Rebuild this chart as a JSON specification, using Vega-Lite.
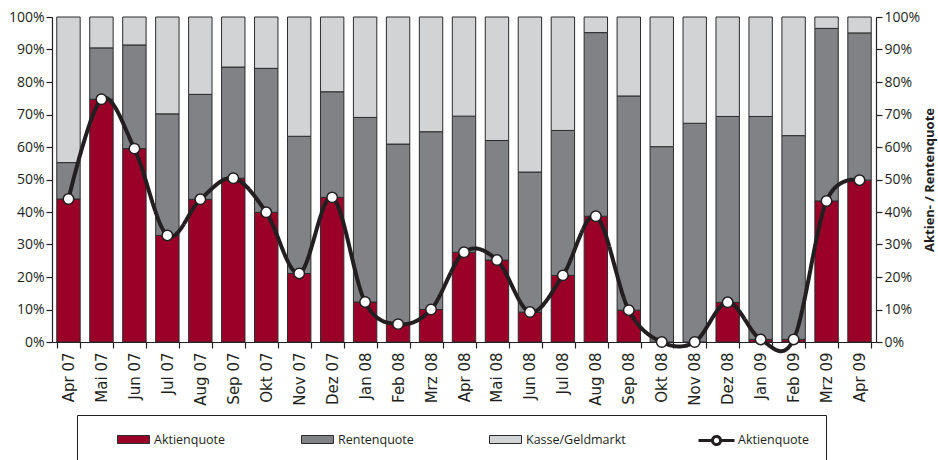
{
  "$schema": "https://vega.github.io/schema/vega-lite/v6.json",
  "width": 824,
  "height": 325,
  "autosize": "none",
  "padding": {"left": 52, "top": 17, "right": 62, "bottom": 118},
  "background": "white",
  "data": {"values": [
    {"Monat": "Apr 07", "Kategorie": "Aktienquote", "Anteil": 44.0},
    {"Monat": "Apr 07", "Kategorie": "Rentenquote", "Anteil": 11.2},
    {"Monat": "Apr 07", "Kategorie": "Kasse/Geldmarkt", "Anteil": 44.8},
    {"Monat": "Mai 07", "Kategorie": "Aktienquote", "Anteil": 74.7},
    {"Monat": "Mai 07", "Kategorie": "Rentenquote", "Anteil": 15.8},
    {"Monat": "Mai 07", "Kategorie": "Kasse/Geldmarkt", "Anteil": 9.5},
    {"Monat": "Jun 07", "Kategorie": "Aktienquote", "Anteil": 59.5},
    {"Monat": "Jun 07", "Kategorie": "Rentenquote", "Anteil": 31.9},
    {"Monat": "Jun 07", "Kategorie": "Kasse/Geldmarkt", "Anteil": 8.6},
    {"Monat": "Jul 07", "Kategorie": "Aktienquote", "Anteil": 32.8},
    {"Monat": "Jul 07", "Kategorie": "Rentenquote", "Anteil": 37.4},
    {"Monat": "Jul 07", "Kategorie": "Kasse/Geldmarkt", "Anteil": 29.8},
    {"Monat": "Aug 07", "Kategorie": "Aktienquote", "Anteil": 43.9},
    {"Monat": "Aug 07", "Kategorie": "Rentenquote", "Anteil": 32.3},
    {"Monat": "Aug 07", "Kategorie": "Kasse/Geldmarkt", "Anteil": 23.8},
    {"Monat": "Sep 07", "Kategorie": "Aktienquote", "Anteil": 50.4},
    {"Monat": "Sep 07", "Kategorie": "Rentenquote", "Anteil": 34.2},
    {"Monat": "Sep 07", "Kategorie": "Kasse/Geldmarkt", "Anteil": 15.4},
    {"Monat": "Okt 07", "Kategorie": "Aktienquote", "Anteil": 39.9},
    {"Monat": "Okt 07", "Kategorie": "Rentenquote", "Anteil": 44.3},
    {"Monat": "Okt 07", "Kategorie": "Kasse/Geldmarkt", "Anteil": 15.8},
    {"Monat": "Nov 07", "Kategorie": "Aktienquote", "Anteil": 21.1},
    {"Monat": "Nov 07", "Kategorie": "Rentenquote", "Anteil": 42.2},
    {"Monat": "Nov 07", "Kategorie": "Kasse/Geldmarkt", "Anteil": 36.7},
    {"Monat": "Dez 07", "Kategorie": "Aktienquote", "Anteil": 44.5},
    {"Monat": "Dez 07", "Kategorie": "Rentenquote", "Anteil": 32.5},
    {"Monat": "Dez 07", "Kategorie": "Kasse/Geldmarkt", "Anteil": 23.0},
    {"Monat": "Jan 08", "Kategorie": "Aktienquote", "Anteil": 12.3},
    {"Monat": "Jan 08", "Kategorie": "Rentenquote", "Anteil": 56.8},
    {"Monat": "Jan 08", "Kategorie": "Kasse/Geldmarkt", "Anteil": 30.9},
    {"Monat": "Feb 08", "Kategorie": "Aktienquote", "Anteil": 5.5},
    {"Monat": "Feb 08", "Kategorie": "Rentenquote", "Anteil": 55.4},
    {"Monat": "Feb 08", "Kategorie": "Kasse/Geldmarkt", "Anteil": 39.1},
    {"Monat": "Mrz 08", "Kategorie": "Aktienquote", "Anteil": 10.0},
    {"Monat": "Mrz 08", "Kategorie": "Rentenquote", "Anteil": 54.7},
    {"Monat": "Mrz 08", "Kategorie": "Kasse/Geldmarkt", "Anteil": 35.3},
    {"Monat": "Apr 08", "Kategorie": "Aktienquote", "Anteil": 27.6},
    {"Monat": "Apr 08", "Kategorie": "Rentenquote", "Anteil": 41.9},
    {"Monat": "Apr 08", "Kategorie": "Kasse/Geldmarkt", "Anteil": 30.5},
    {"Monat": "Mai 08", "Kategorie": "Aktienquote", "Anteil": 25.2},
    {"Monat": "Mai 08", "Kategorie": "Rentenquote", "Anteil": 36.8},
    {"Monat": "Mai 08", "Kategorie": "Kasse/Geldmarkt", "Anteil": 38.0},
    {"Monat": "Jun 08", "Kategorie": "Aktienquote", "Anteil": 9.2},
    {"Monat": "Jun 08", "Kategorie": "Rentenquote", "Anteil": 43.1},
    {"Monat": "Jun 08", "Kategorie": "Kasse/Geldmarkt", "Anteil": 47.7},
    {"Monat": "Jul 08", "Kategorie": "Aktienquote", "Anteil": 20.5},
    {"Monat": "Jul 08", "Kategorie": "Rentenquote", "Anteil": 44.6},
    {"Monat": "Jul 08", "Kategorie": "Kasse/Geldmarkt", "Anteil": 34.9},
    {"Monat": "Aug 08", "Kategorie": "Aktienquote", "Anteil": 38.7},
    {"Monat": "Aug 08", "Kategorie": "Rentenquote", "Anteil": 56.5},
    {"Monat": "Aug 08", "Kategorie": "Kasse/Geldmarkt", "Anteil": 4.8},
    {"Monat": "Sep 08", "Kategorie": "Aktienquote", "Anteil": 9.8},
    {"Monat": "Sep 08", "Kategorie": "Rentenquote", "Anteil": 65.9},
    {"Monat": "Sep 08", "Kategorie": "Kasse/Geldmarkt", "Anteil": 24.3},
    {"Monat": "Okt 08", "Kategorie": "Aktienquote", "Anteil": 0.0},
    {"Monat": "Okt 08", "Kategorie": "Rentenquote", "Anteil": 60.1},
    {"Monat": "Okt 08", "Kategorie": "Kasse/Geldmarkt", "Anteil": 39.9},
    {"Monat": "Nov 08", "Kategorie": "Aktienquote", "Anteil": 0.0},
    {"Monat": "Nov 08", "Kategorie": "Rentenquote", "Anteil": 67.3},
    {"Monat": "Nov 08", "Kategorie": "Kasse/Geldmarkt", "Anteil": 32.7},
    {"Monat": "Dez 08", "Kategorie": "Aktienquote", "Anteil": 12.2},
    {"Monat": "Dez 08", "Kategorie": "Rentenquote", "Anteil": 57.2},
    {"Monat": "Dez 08", "Kategorie": "Kasse/Geldmarkt", "Anteil": 30.6},
    {"Monat": "Jan 09", "Kategorie": "Aktienquote", "Anteil": 0.8},
    {"Monat": "Jan 09", "Kategorie": "Rentenquote", "Anteil": 68.6},
    {"Monat": "Jan 09", "Kategorie": "Kasse/Geldmarkt", "Anteil": 30.6},
    {"Monat": "Feb 09", "Kategorie": "Aktienquote", "Anteil": 0.8},
    {"Monat": "Feb 09", "Kategorie": "Rentenquote", "Anteil": 62.7},
    {"Monat": "Feb 09", "Kategorie": "Kasse/Geldmarkt", "Anteil": 36.5},
    {"Monat": "Mrz 09", "Kategorie": "Aktienquote", "Anteil": 43.4},
    {"Monat": "Mrz 09", "Kategorie": "Rentenquote", "Anteil": 53.1},
    {"Monat": "Mrz 09", "Kategorie": "Kasse/Geldmarkt", "Anteil": 3.5},
    {"Monat": "Apr 09", "Kategorie": "Aktienquote", "Anteil": 49.8},
    {"Monat": "Apr 09", "Kategorie": "Rentenquote", "Anteil": 45.3},
    {"Monat": "Apr 09", "Kategorie": "Kasse/Geldmarkt", "Anteil": 4.9}
  ]},
  "config": {
    "view": {"stroke": null},
    "font": "Open Sans",
    "axis": {
      "grid": false,
      "domainColor": "#231f20",
      "tickColor": "#231f20",
      "labelColor": "#231f20",
      "titleColor": "#231f20",
      "domainWidth": 1.2,
      "tickWidth": 1.2
    }
  },
  "encoding": {
    "x": {
      "field": "Monat",
      "type": "ordinal",
      "sort": null,
      "scale": {"paddingInner": 0.29, "paddingOuter": 0.145},
      "axis": {
        "title": null,
        "labelAngle": -90,
        "labelFont": "DejaVu Sans",
        "labelFontSize": 15,
        "labelPadding": 4,
        "tickSize": 6,
        "tickBand": "extent"
      }
    }
  },
  "layer": [
    {
      "transform": [
        {"calculate": "indexof(['Aktienquote', 'Rentenquote', 'Kasse/Geldmarkt'], datum.Kategorie)", "as": "Stapel"}
      ],
      "mark": {"type": "bar", "strokeWidth": 1},
      "encoding": {
        "y": {
          "field": "Anteil",
          "type": "quantitative",
          "stack": "zero",
          "scale": {"domain": [0, 100], "nice": false},
          "axis": {
            "orient": "left",
            "title": null,
            "values": [0, 10, 20, 30, 40, 50, 60, 70, 80, 90, 100],
            "labelExpr": "datum.value + '%'",
            "labelFontSize": 14,
            "labelPadding": 2,
            "tickSize": 6
          }
        },
        "order": {"field": "Stapel", "type": "quantitative", "sort": "ascending"},
        "color": {
          "field": "Kategorie",
          "type": "nominal",
          "scale": {
            "domain": ["Aktienquote", "Rentenquote", "Kasse/Geldmarkt", "AktienquoteLinie"],
            "range": ["#9b0029", "#808285", "#d1d3d4", "#ffffff"]
          },
          "legend": {
            "title": null,
            "orient": "none",
            "legendX": 25,
            "legendY": 398,
            "direction": "horizontal",
            "columns": 4,
            "columnPadding": 51,
            "padding": 16,
            "strokeColor": "#231f20",
            "labelFont": "Open Sans",
            "labelFontSize": 12.5,
            "labelColor": "#231f20",
            "labelOffset": 12,
            "symbolOffset": 32,
            "symbolSize": 256,
            "symbolType": "M-2,-0.5H2V0.5H-2Z",
            "symbolStrokeWidth": 1,
            "labelExpr": "datum.label == 'AktienquoteLinie' ? 'Aktienquote' : datum.label"
          }
        },
        "stroke": {
          "field": "Kategorie",
          "type": "nominal",
          "scale": {
            "domain": ["Aktienquote", "Rentenquote", "Kasse/Geldmarkt", "AktienquoteLinie"],
            "range": ["#2b2b2b", "#2b2b2b", "#2b2b2b", "#ffffff"]
          },
          "legend": {
            "title": null,
            "orient": "none",
            "legendX": 25,
            "legendY": 398,
            "direction": "horizontal",
            "columns": 4,
            "columnPadding": 51,
            "padding": 16,
            "strokeColor": "#231f20",
            "labelFont": "Open Sans",
            "labelFontSize": 12.5,
            "labelColor": "#231f20",
            "labelOffset": 12,
            "symbolOffset": 32,
            "symbolSize": 256,
            "symbolType": "M-2,-0.5H2V0.5H-2Z",
            "symbolStrokeWidth": 1,
            "labelExpr": "datum.label == 'AktienquoteLinie' ? 'Aktienquote' : datum.label"
          }
        }
      }
    },
    {
      "transform": [{"filter": "datum.Kategorie == 'Aktienquote'"}],
      "mark": {"type": "line", "interpolate": "cardinal", "strokeWidth": 4, "color": "#231f20"},
      "encoding": {
        "y": {
          "field": "Anteil",
          "type": "quantitative",
          "axis": {
            "orient": "right",
            "title": "Aktien- / Rentenquote",
            "titleFont": "Open Sans",
            "titleFontWeight": "bold",
            "titleFontSize": 13,
            "titleAngle": 270,
            "titlePadding": 17,
            "values": [0, 10, 20, 30, 40, 50, 60, 70, 80, 90, 100],
            "labelExpr": "datum.value + '%'",
            "labelFontSize": 14,
            "labelPadding": 2,
            "tickSize": 6
          }
        },
        "strokeDash": {
          "datum": "Aktienquote",
          "type": "nominal",
          "scale": {"range": [[1, 0]]},
          "legend": {
            "title": null,
            "orient": "none",
            "legendX": 654,
            "legendY": 413,
            "labelExpr": "''",
            "padding": 0,
            "symbolSize": 324,
            "symbolType": "M-2,0H-0.45M0.45,0H2M-0.45,0A0.45,0.45 0 1,1 0.45,0A0.45,0.45 0 1,1 -0.45,0",
            "symbolStrokeColor": "#231f20",
            "symbolFillColor": "#ffffff",
            "symbolStrokeWidth": 3
          }
        }
      }
    },
    {
      "transform": [{"filter": "datum.Kategorie == 'Aktienquote'"}],
      "mark": {"type": "point", "filled": true, "fill": "#ffffff", "stroke": "#231f20", "strokeWidth": 1.5, "size": 110, "opacity": 1},
      "encoding": {
        "y": {"field": "Anteil", "type": "quantitative", "axis": null}
      }
    }
  ],
  "resolve": {"scale": {"y": "shared"}, "axis": {"y": "independent"}}
}
